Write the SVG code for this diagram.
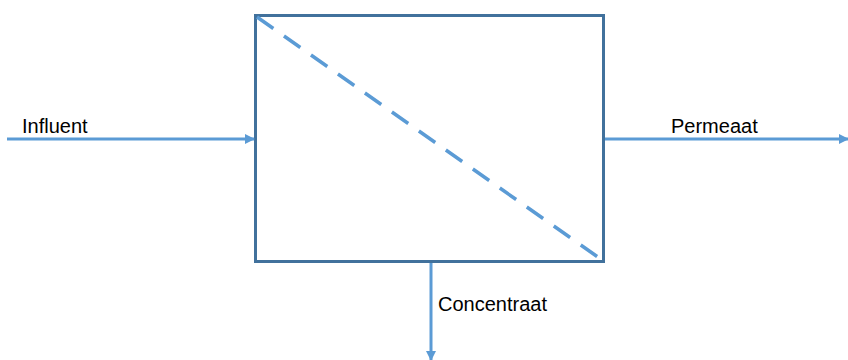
<svg xmlns="http://www.w3.org/2000/svg" width="848" height="360" viewBox="0 0 848 360">
<style>
.flow{stroke:#5B9BD5;stroke-width:3;fill:none}
.box{stroke:#41719C;stroke-width:3;fill:#FFFFFF}
.mem{stroke:#5B9BD5;stroke-width:3.5;stroke-dasharray:20 13;fill:none}
.lbl{font-family:"Liberation Sans",Arial,sans-serif;font-size:20px;fill:#000000}
</style>
<defs>
<marker id="ah" viewBox="0 0 10 10" refX="9" refY="5" markerWidth="10" markerHeight="10" markerUnits="userSpaceOnUse" orient="auto">
<path d="M0,0 L10,5 L0,10 Z" fill="#5B9BD5"/>
</marker>
</defs>
<g id="unit">
<rect class="box" x="255.5" y="15.5" width="348" height="246"/>
<line class="mem" x1="257" y1="17" x2="602" y2="260"/>
</g>
<g id="connectors">
<line class="flow" x1="7" y1="139" x2="254" y2="139" marker-end="url(#ah)"/>
<line class="flow" x1="605" y1="139" x2="848" y2="139" marker-end="url(#ah)"/>
<line class="flow" x1="431" y1="263" x2="431" y2="360" marker-end="url(#ah)"/>
</g>
<g id="labels">
<text class="lbl" x="22" y="133">Influent</text>
<text class="lbl" x="671" y="133">Permeaat</text>
<text class="lbl" x="438" y="311">Concentraat</text>
</g>
</svg>
